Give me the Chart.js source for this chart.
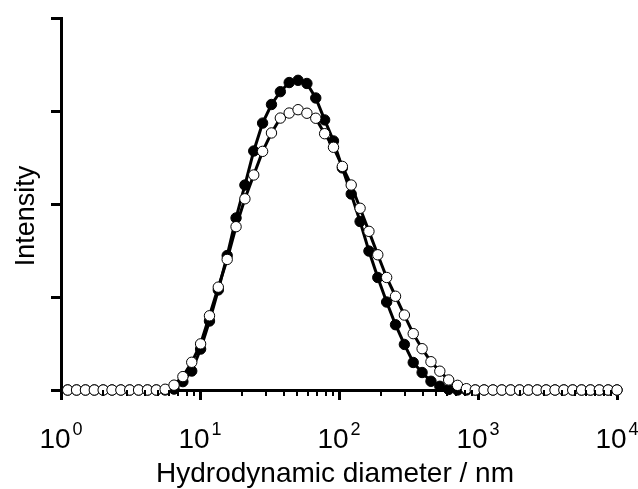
<!DOCTYPE html>
<html>
<head>
<meta charset="utf-8">
<script src="https://cdn.jsdelivr.net/npm/chart.js@4"></script>
<style>
  html, body { margin: 0; padding: 0; background: #fff; }
  #wrap { width: 638px; height: 489px; }
</style>
</head>
<body>
<div id="wrap"><canvas id="chart1"></canvas></div>
<script>
// size bins (nm)
const diameters = [1.117, 1.294, 1.499, 1.736, 2.01, 2.328, 2.696, 3.122, 3.615, 4.187, 4.849,
  5.615, 6.503, 7.531, 8.721, 10.1, 11.7, 13.54, 15.69, 18.17, 21.04, 24.36, 28.21, 32.67,
  37.84, 43.82, 50.75, 58.77, 68.06, 78.82, 91.28, 105.7, 122.4, 141.8, 164.2, 190.1, 220.2,
  255.0, 295.3, 342.0, 396.1, 458.7, 531.2, 615.1, 712.4, 825.0, 955.4, 1106, 1281, 1484,
  1718, 1990, 2305, 2669, 3091, 3580, 4145, 4801, 5560, 6439, 7456, 8635, 10000];

// filled circles
const intensityFilled = [0, 0, 0, 0, 0, 0, 0, 0, 0, 0, 0,
  0, 0.05, 0.45, 1.02, 2.2, 3.71, 5.38, 7.23, 9.25, 11.02, 12.85, 14.35, 15.35,
  16.04, 16.53, 16.65, 16.48, 15.7, 14.52, 13.39, 11.94, 10.54, 9.06, 7.47, 6.05, 4.73,
  3.51, 2.45, 1.48, 0.94, 0.47, 0.2, 0.03, 0, 0, 0, 0, 0, 0,
  0, 0, 0, 0, 0, 0, 0, 0, 0, 0, 0, 0, 0];

// open circles
const intensityOpen = [0, 0, 0, 0, 0, 0, 0, 0, 0, 0, 0,
  0.04, 0.26, 0.72, 1.49, 2.48, 3.99, 5.53, 7.02, 8.78, 10.28, 11.56, 12.83, 13.82,
  14.62, 14.89, 15.07, 14.88, 14.61, 13.78, 13.05, 12.02, 11.02, 9.77, 8.53, 7.27, 6.05,
  5.04, 4.03, 3.03, 2.22, 1.52, 1.01, 0.54, 0.25, 0.07, 0, 0, 0, 0,
  0, 0, 0, 0, 0, 0, 0, 0, 0, 0, 0, 0, 0];

const xMajorTicks = [1, 10, 100, 1000, 10000];
const xTickExponents = ['0', '1', '2', '3', '4'];
const yTicks = [0, 5, 10, 15, 20];

const FONT = '"Liberation Sans", Arial, sans-serif';

function pts(ys) {
  return diameters.map((d, i) => ({x: d, y: ys[i]}));
}

// minor ticks, tick labels with superscripts and axis titles
const axisText = {
  id: 'axisText',
  afterDraw(chart) {
    const ctx = chart.ctx;
    const xs = chart.scales.x;
    const area = chart.chartArea;
    ctx.save();
    ctx.strokeStyle = '#000';
    ctx.lineWidth = 2;
    for (let e = 0; e < 4; e++) {
      for (let m = 2; m <= 9; m++) {
        const px = Math.round(xs.getPixelForValue(m * Math.pow(10, e)));
        ctx.beginPath();
        ctx.moveTo(px, area.bottom);
        ctx.lineTo(px, area.bottom + 6);
        ctx.stroke();
      }
    }
    ctx.fillStyle = '#000';
    ctx.textBaseline = 'alphabetic';
    xMajorTicks.forEach((v, i) => {
      const px = xs.getPixelForValue(v);
      ctx.font = '28px ' + FONT;
      const w1 = ctx.measureText('10').width;
      ctx.font = '18px ' + FONT;
      const w2 = ctx.measureText(xTickExponents[i]).width;
      const start = px - (w1 + 2 + w2) / 2;
      ctx.font = '28px ' + FONT;
      ctx.textAlign = 'left';
      ctx.fillText('10', start, 448);
      ctx.font = '18px ' + FONT;
      ctx.fillText(xTickExponents[i], start + w1 + 2, 435);
    });
    ctx.font = '28px ' + FONT;
    ctx.textAlign = 'center';
    ctx.fillText('Hydrodynamic diameter / nm', 335, 482);
    ctx.font = '27px ' + FONT;
    ctx.translate(34, 216);
    ctx.rotate(-Math.PI / 2);
    ctx.fillText('Intensity', 0, 0);
    ctx.restore();
  }
};

const data = {
  datasets: [
    {
      label: 'open',
      data: pts(intensityOpen),
      borderColor: '#000',
      borderWidth: 3,
      pointRadius: 5.2,
      pointBorderWidth: 1,
      pointBackgroundColor: '#fff',
      pointBorderColor: '#000',
      clip: false,
      order: 0
    },
    {
      label: 'filled',
      data: pts(intensityFilled),
      borderColor: '#000',
      borderWidth: 3,
      pointRadius: 5.2,
      pointBorderWidth: 1,
      pointBackgroundColor: '#000',
      pointBorderColor: '#000',
      clip: false,
      order: 1
    }
  ]
};

const options = {
  responsive: true,
  maintainAspectRatio: false,
  animation: false,
  events: [],
  layout: { padding: { top: 18, right: 21, left: 0, bottom: 0 } },
  plugins: {
    legend: { display: false },
    tooltip: { enabled: false }
  },
  scales: {
    x: {
      type: 'logarithmic',
      min: 1,
      max: 10000,
      afterBuildTicks: s => { s.ticks = xMajorTicks.map(v => ({value: v, major: true})); },
      afterFit: s => { s.height = 99; },
      ticks: { display: false },
      grid: { drawOnChartArea: false, drawTicks: true, tickLength: 10, tickWidth: 3, tickColor: '#000' },
      border: { display: true, width: 3, color: '#000' }
    },
    y: {
      min: 0,
      max: 20,
      afterBuildTicks: s => { s.ticks = yTicks.map(v => ({value: v})); },
      afterFit: s => { s.width = 61; },
      ticks: { display: false },
      grid: { drawOnChartArea: false, drawTicks: true, tickLength: 10, tickWidth: 3, tickColor: '#000' },
      border: { display: true, width: 3, color: '#000' }
    }
  }
};

new Chart(document.getElementById('chart1').getContext('2d'), {
  type: 'line',
  data: data,
  options: options,
  plugins: [axisText]
});
</script>
</body>
</html>
